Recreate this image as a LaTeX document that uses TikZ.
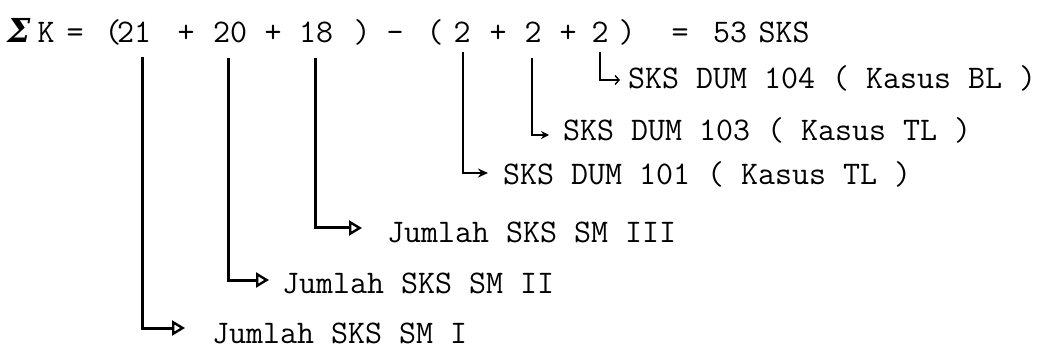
\documentclass[tikz,border=0pt]{standalone}
\usepackage{fontspec}
\newfontfamily\sigfont{DejaVu Serif}
\usetikzlibrary{arrows.meta}
\begin{document}
\begin{tikzpicture}[x=1pt,y=-1pt,
  every node/.style={font=\ttfamily\fontsize{33}{40}\selectfont, inner sep=0pt},
  tok/.style={anchor=base},
  lbl/.style={anchor=base west},
  bigarrow/.style={line width=3pt, -{Triangle[open,length=13pt,width=15pt,line width=2.4pt]}},
  midarrow/.style={line width=2.6pt, -{Stealth[length=10pt,width=9pt]}},
  smallarrow/.style={line width=2pt, -{Stealth[length=8pt,width=8pt]}},
  thinarrow/.style={line width=1.4pt, -{Straight Barb[length=4pt,width=9pt,line width=1.4pt]}}
]
\useasboundingbox (0,0) rectangle (1055,358);
% top line
\node[tok] (sig) at (19,43) {\sigfont\bfseries\itshape Σ};
\node[tok] (k) at (46,43) {K};
\node[tok] (eqa) at (75,43) {=};
\node[tok] (opa) at (113,43) {(};
\node[tok] (n21) at (134,43) {21};
\node[tok] (pa) at (186,43) {+};
\node[tok] (n20) at (230,43) {20};
\node[tok] (pb) at (273,43) {+};
\node[tok] (n18) at (316,43) {18};
\node[tok] (cpa) at (362,43) {)};
\node[tok] (mi) at (395,43) {-};
\node[tok] (opb) at (435,43) {(};
\node[tok] (na) at (462,43) {2};
\node[tok] (pc) at (498,43) {+};
\node[tok] (nb) at (533,43) {2};
\node[tok] (pd) at (568,43) {+};
\node[tok] (nc) at (600,43) {2};
\node[tok] (cpb) at (627,43) {)};
\node[tok] (eqb) at (680,43) {=};
\node[tok] (n53) at (730,43) {53};
\node[tok] (sks) at (784,43) {SKS};
% labels
\node[lbl] (l104) at (628,89) {SKS DUM 104 ( Kasus BL )};
\node[lbl] (l103) at (563,141) {SKS DUM 103 ( Kasus TL )};
\node[lbl] (l101) at (503,185) {SKS DUM 101 ( Kasus TL )};
\node[lbl] (l3) at (387,243) {Jumlah SKS SM III};
\node[lbl] (l2) at (282,293) {Jumlah SKS SM II};
\node[lbl] (l1) at (212,343) {Jumlah SKS SM I};
% connectors
\draw[bigarrow] ([xshift=8.6pt,yshift=-14pt]n21.south) |- ([xshift=-27pt,yshift=15pt]l1.base west);
\draw[bigarrow] ([xshift=-2pt,yshift=-14pt]n20.south) |- ([xshift=-13pt,yshift=13pt]l2.base west);
\draw[bigarrow] ([xshift=-1pt,yshift=-14pt]n18.south) |- ([xshift=-25pt,yshift=15pt]l3.base west);
\draw[midarrow] ([xshift=1pt,yshift=-9pt]na.south) |- ([xshift=-15pt,yshift=12pt]l101.base west);
\draw[smallarrow] ([xshift=-1pt,yshift=-15pt]nb.south) |- ([xshift=-14pt,yshift=6pt]l103.base west);
\draw[thinarrow] ([yshift=-9pt]nc.south) |- ([xshift=-8pt,yshift=9pt]l104.base west);
\end{tikzpicture}
\end{document}
